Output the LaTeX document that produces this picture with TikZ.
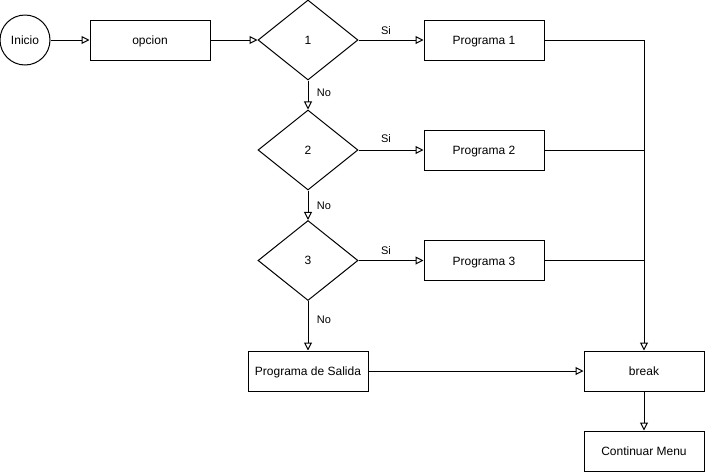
\documentclass[tikz,border=0pt]{standalone}
\usepackage{fontspec}
\setmainfont{Liberation Sans}
\usetikzlibrary{shapes.geometric,arrows.meta}

\tikzset{
  caja/.style={draw, line width=1pt, minimum width=120pt, minimum height=40pt, inner sep=0pt, text height=9pt, text depth=0pt, font=\fontsize{12}{14}\selectfont},
  rombo/.style={draw, diamond, aspect=1.25, line width=1pt, minimum width=100pt, minimum height=80pt, inner sep=0pt, text height=8.5pt, text depth=0pt, font=\fontsize{12}{14}\selectfont},
  flecha/.style={line width=1pt, -{Triangle[open, length=8pt, width=8pt]}},
  linea/.style={line width=1pt},
  etiq/.style={font=\fontsize{11}{13}\selectfont, inner sep=0pt}
}

\begin{document}
\begin{tikzpicture}[x=1pt, y=-1pt]
            \useasboundingbox (0,0) rectangle (705,472);

            % nodos
            \node[draw, circle, line width=1pt, minimum size=50pt, inner sep=0pt, text height=9pt, text depth=0pt, font=\fontsize{12}{14}\selectfont] (ini) at (25,40) {Inicio};
            \node[caja] (opc) at (150,40) {opcion};
            \node[rombo] (d1) at (308,40) {1};
            \node[rombo] (d2) at (308,150) {2};
            \node[rombo] (d3) at (308,260.5) {3};
            \node[caja] (p1) at (484,40) {Programa 1};
            \node[caja] (p2) at (484,150) {Programa 2};
            \node[caja] (p3) at (484,260.5) {Programa 3};
            \node[caja] (sal) at (308,371) {Programa de Salida};
            \node[caja] (brk) at (644,371) {break};
            \node[caja] (cont) at (644,451) {Continuar Menu};

            % conectores
            \draw[flecha] (ini) -- (opc);
            \draw[flecha] (opc) -- (d1);
            \draw[flecha] (d1) -- (p1);
            \draw[flecha] (d2) -- (p2);
            \draw[flecha] (d3) -- (p3);
            \draw[flecha] (d1) -- (d2);
            \draw[flecha] (d2) -- (d3);
            \draw[flecha] (d3) -- (sal);
            \draw[flecha] (p1) -| (brk);
            \draw[linea] (p2.east) -- (p2.east -| brk.north);
            \draw[linea] (p3.east) -- (p3.east -| brk.north);
            \draw[flecha] (sal) -- (brk);
            \draw[flecha] (brk) -- (cont);

            % etiquetas
            \node[etiq] (si1) at (386,31) {Si};
            \node[etiq] (si2) at (386,139) {Si};
            \node[etiq] (si3) at (386,251) {Si};
            \node[etiq] (no1) at (324,93) {No};
            \node[etiq] (no2) at (324,206) {No};
            \node[etiq] (no3) at (324,320) {No};
        \end{tikzpicture}
\end{document}
